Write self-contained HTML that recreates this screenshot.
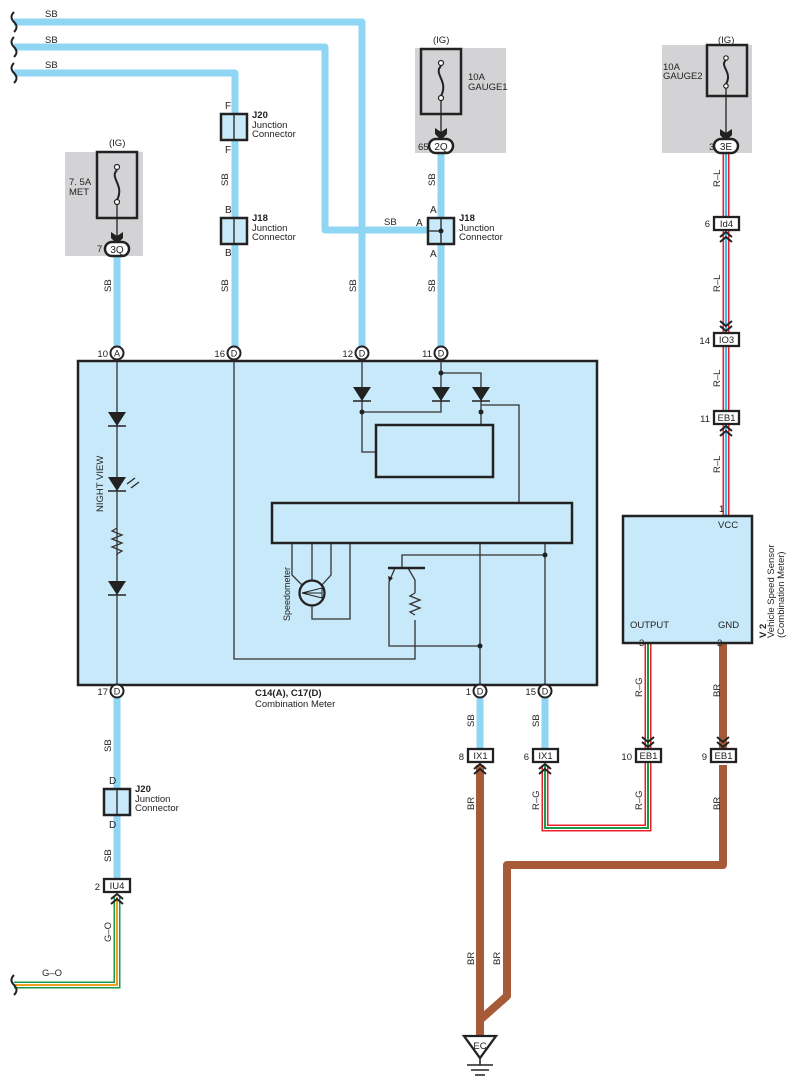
<!DOCTYPE html>
<html><head><meta charset="utf-8"><style>
html,body{margin:0;padding:0;background:#fff;}
svg{display:block;font-family:"Liberation Sans",sans-serif;}
text{fill:#222;}
</style></head><body>
<svg width="796" height="1088" viewBox="0 0 796 1088" xmlns="http://www.w3.org/2000/svg">
<defs>
<g id="chev"><path d="M-6,0 L0,-5 L6,0 M-6,5 L0,0 L6,5" fill="none" stroke="#222" stroke-width="2"/></g>
</defs>
<rect x="65" y="152" width="78" height="104" fill="#d3d3d5"/>
<rect x="415" y="48" width="91" height="105" fill="#d3d3d5"/>
<rect x="662" y="45" width="90" height="108" fill="#d3d3d5"/>

<g fill="none" stroke="#8fd6f5" stroke-width="7" stroke-linejoin="round">
<path d="M14,22 H362 V353"/>
<path d="M14,47 H325 V230 H435"/>
<path d="M14,73 H235 V353"/>
<path d="M117,256 V353"/>
<path d="M441,153 V353"/>
<path d="M117,691 V880"/>
<path d="M480,691 V755"/>
<path d="M545,691 V755"/>
</g>
<g fill="none" stroke="#a65a38" stroke-width="8" stroke-linejoin="round">
<path d="M480,765 V1036"/>
<path d="M723,643 V755"/>
<path d="M723,765 V865 H507 V996 L480,1020"/>
</g>
<g fill="none" stroke-linejoin="miter">
<path d="M726,153 V516" stroke="#e8212b" stroke-width="7"/>
<path d="M726,153 V516" stroke="#fff" stroke-width="4"/>
<path d="M726,153 V516" stroke="#4ab6e8" stroke-width="2.4"/>
<path d="M648,643 V828 H545 V765" stroke="#e8212b" stroke-width="7"/>
<path d="M648,643 V828 H545 V765" stroke="#fff" stroke-width="4"/>
<path d="M648,643 V828 H545 V765" stroke="#1a9a4a" stroke-width="2"/>
<path d="M117,897 V985 H14" stroke="#1a9a4a" stroke-width="7"/>
<path d="M117,897 V985 H14" stroke="#fff" stroke-width="4"/>
<path d="M117,897 V985 H14" stroke="#f0a020" stroke-width="2"/>
</g>

<g fill="none" stroke="#222" stroke-width="2">
<path d="M14,12 q-5,5 0,10 q5,5 0,10"/>
<path d="M14,37 q-5,5 0,10 q5,5 0,10"/>
<path d="M14,63 q-5,5 0,10 q5,5 0,10"/>
<path d="M14,975 q-5,5 0,10 q5,5 0,10"/>
</g>

<g fill="none" stroke="#222">
<rect x="97" y="152" width="40" height="66" stroke-width="2.5"/>
<path d="M117,170 c-8,8 8,15 0,30" stroke-width="2"/>
<circle cx="117" cy="167" r="2.5" fill="#fff" stroke-width="1.2"/><circle cx="117" cy="202" r="2.5" fill="#fff" stroke-width="1.2"/>
<path d="M117,204 V236" stroke-width="1.3"/>
<rect x="421" y="49" width="40" height="65" stroke-width="2.5"/>
<path d="M441,66 c-8,8 8,15 0,30" stroke-width="2"/>
<circle cx="441" cy="63" r="2.5" fill="#fff" stroke-width="1.2"/><circle cx="441" cy="98" r="2.5" fill="#fff" stroke-width="1.2"/>
<path d="M441,100 V132" stroke-width="1.3"/>
<rect x="707" y="45" width="40" height="51" stroke-width="2.5"/>
<path d="M726,60 c-7,6 7,12 0,24" stroke-width="2"/>
<circle cx="726" cy="58" r="2.2" fill="#fff" stroke-width="1.2"/><circle cx="726" cy="86" r="2.2" fill="#fff" stroke-width="1.2"/>
<path d="M726,88 V133" stroke-width="1.3"/>
</g>
<g fill="#222">
<path d="M111,232 L117,236 L123,232 L123,238 L117,244 L111,238Z"/>
<path d="M435,128 L441,132 L447,128 L447,134 L441,140 L435,134Z"/>
<path d="M720,129 L726,133 L732,129 L732,135 L726,141 L720,135Z"/>
</g>
<g stroke="#222" stroke-width="2.5" fill="#fff">
<rect x="105" y="242" width="24" height="14" rx="7"/>
<rect x="429" y="139" width="24" height="14" rx="7"/>
<rect x="714" y="139" width="24" height="14" rx="7"/>
</g>
<g font-size="10" text-anchor="middle">
<text x="117" y="253">3Q</text><text x="441" y="150">2Q</text><text x="726" y="150">3E</text>
</g>
<g font-size="9.5">
<text x="109" y="146">(IG)</text><text x="433" y="43">(IG)</text><text x="718" y="43">(IG)</text>
<text x="69" y="185">7. 5A</text><text x="69" y="195">MET</text>
<text x="468" y="80">10A</text><text x="468" y="90">GAUGE1</text>
<text x="663" y="70">10A</text><text x="663" y="79">GAUGE2</text>
<text x="97" y="252">7</text><text x="418" y="150">65</text><text x="709" y="150">3</text>
<text x="45" y="17">SB</text><text x="45" y="43">SB</text><text x="45" y="68">SB</text>
<text x="384" y="225">SB</text>
<text x="42" y="976">G–O</text>
</g>

<g stroke="#222" stroke-width="2.5" fill="#c8e9f9">
<rect x="221" y="114" width="26" height="26"/>
<rect x="221" y="218" width="26" height="26"/>
<rect x="428" y="218" width="26" height="26"/>
<rect x="104" y="789" width="26" height="26"/>
</g>
<g stroke="#222" stroke-width="1.3">
<path d="M234,114 V140 M234,218 V244 M441,218 V244 M428,231 H441 M117,789 V815"/>
</g>
<circle cx="441" cy="231" r="2.5" fill="#222"/>
<g font-size="10">
<text x="225" y="109">F</text><text x="225" y="153">F</text>
<text x="225" y="213">B</text><text x="225" y="256">B</text>
<text x="430" y="213">A</text><text x="430" y="257">A</text><text x="416" y="226">A</text>
<text x="109" y="784">D</text><text x="109" y="828">D</text>
<g font-size="9.5">
<text x="252" y="118" font-weight="bold">J20</text><text x="252" y="128">Junction</text><text x="252" y="137">Connector</text>
<text x="252" y="221" font-weight="bold">J18</text><text x="252" y="231">Junction</text><text x="252" y="240">Connector</text>
<text x="459" y="221" font-weight="bold">J18</text><text x="459" y="231">Junction</text><text x="459" y="240">Connector</text>
<text x="135" y="792" font-weight="bold">J20</text><text x="135" y="802">Junction</text><text x="135" y="811">Connector</text>
</g>
</g>

<g font-size="9.5">
<g transform="rotate(-90)">
<text x="-292" y="111">SB</text>
<text x="-186" y="228">SB</text><text x="-292" y="228">SB</text>
<text x="-292" y="356">SB</text>
<text x="-186" y="435">SB</text><text x="-292" y="435">SB</text>
<text x="-752" y="111">SB</text><text x="-862" y="111">SB</text>
<text x="-727" y="474">SB</text><text x="-727" y="539">SB</text>
<text x="-810" y="474">BR</text><text x="-965" y="474">BR</text><text x="-965" y="500">BR</text>
<text x="-810" y="539">R–G</text><text x="-810" y="642">R–G</text><text x="-697" y="642">R–G</text>
<text x="-697" y="720">BR</text><text x="-810" y="720">BR</text>
<text x="-187" y="720">R–L</text><text x="-292" y="720">R–L</text><text x="-387" y="720">R–L</text><text x="-473" y="720">R–L</text>
<text x="-942" y="111">G–O</text>
</g>
</g>

<rect x="78" y="361" width="519" height="324" fill="#c8e9f9" stroke="#222" stroke-width="2.5"/>
<g font-size="9.5" transform="rotate(-90)">
<text x="-512" y="103">NIGHT VIEW</text>
<text x="-621" y="290" font-size="9">Speedometer</text>
</g>
<g fill="none" stroke="#333" stroke-width="1.3">
<path d="M117,361 V685"/>
<path d="M234,361 V659 H415 V620 M415,593 V580 L408,568"/>
<path d="M362,361 V452 H376"/>
<path d="M441,361 V412 H362"/>
<path d="M441,373 H481 V425"/>
<path d="M481,405 H519 V503"/>
<path d="M402,568 V555 H545"/>
<path d="M395,568 L389,582 V646 H480"/>
<path d="M480,543 V685 M545,543 V685"/>
<path d="M292,543 V575 L302,585 M312,543 V580 M331,543 V575 L322,585 M350,543 V619 H312 V606"/>
<path d="M415,593 l-5,3 l10,4 l-10,4 l10,4 l-10,4 l5,3"/>
<path d="M117,528 l-5,3 l10,4 l-10,4 l10,4 l-10,4 l10,4 l-5,3 V556"/>
</g>
<path d="M388,568 H425" stroke="#222" stroke-width="2.5"/>
<path d="M389,582 l-1,-6 l5,2z" fill="#222"/>
<rect x="376" y="425" width="117" height="52" fill="none" stroke="#222" stroke-width="2.5"/>
<rect x="272" y="503" width="300" height="40" fill="none" stroke="#222" stroke-width="2.5"/>
<circle cx="312" cy="593" r="12.5" fill="none" stroke="#222" stroke-width="2.3"/>
<path d="M302,593 L322,588 L322,598 Z M302,593 H322" fill="none" stroke="#222" stroke-width="1"/>
<g fill="#222">
<path d="M108,412 H126 L117,426Z"/><path d="M108,426 H126" stroke="#222" stroke-width="1.5"/>
<path d="M108,477 H126 L117,491Z"/><path d="M108,491 H126" stroke="#222" stroke-width="1.5"/>
<path d="M108,581 H126 L117,595Z"/><path d="M108,595 H126" stroke="#222" stroke-width="1.5"/>
<path d="M353,387 H371 L362,401Z"/><path d="M353,401 H371" stroke="#222" stroke-width="1.5"/>
<path d="M432,387 H450 L441,401Z"/><path d="M432,401 H450" stroke="#222" stroke-width="1.5"/>
<path d="M472,387 H490 L481,401Z"/><path d="M472,401 H490" stroke="#222" stroke-width="1.5"/>
<circle cx="441" cy="373" r="2.5"/><circle cx="362" cy="412" r="2.5"/><circle cx="481" cy="412" r="2.5"/>
<circle cx="545" cy="555" r="2.5"/><circle cx="480" cy="646" r="2.5"/>
</g>
<path d="M127,484 l8,-6 M131,488 l8,-6" stroke="#222" stroke-width="1.2"/>
<g font-size="9.5">
<text x="255" y="696" font-weight="bold">C14(A), C17(D)</text>
<text x="255" y="707">Combination Meter</text>
</g>

<g stroke="#222" stroke-width="2" fill="#fff">
<circle cx="117" cy="353" r="6.5"/><circle cx="234" cy="353" r="6.5"/><circle cx="362" cy="353" r="6.5"/><circle cx="441" cy="353" r="6.5"/>
<circle cx="117" cy="691" r="6.5"/><circle cx="480" cy="691" r="6.5"/><circle cx="545" cy="691" r="6.5"/>
</g>
<g font-size="9" text-anchor="middle">
<text x="117" y="356.5">A</text><text x="234" y="356.5">D</text><text x="362" y="356.5">D</text><text x="441" y="356.5">D</text>
<text x="117" y="694.5">D</text><text x="480" y="694.5">D</text><text x="545" y="694.5">D</text>
</g>
<g font-size="9.5" text-anchor="end">
<text x="108" y="357">10</text><text x="225" y="357">16</text><text x="353" y="357">12</text><text x="432" y="357">11</text>
<text x="108" y="695">17</text><text x="471" y="695">1</text><text x="536" y="695">15</text>
</g>

<rect x="623" y="516" width="129" height="127" fill="#c8e9f9" stroke="#222" stroke-width="2.5"/>
<g font-size="9.5">
<text x="718" y="528">VCC</text><text x="630" y="628">OUTPUT</text><text x="718" y="628">GND</text>
<text x="719" y="512">1</text><text x="639" y="646">3</text><text x="717" y="646">2</text>
<g transform="rotate(-90)">
<text x="-638" y="766" font-weight="bold">V 2</text>
<text x="-638" y="772" dy="2">Vehicle Speed Sensor</text>
<text x="-638" y="784">(Combination Meter)</text>
</g>
</g>

<g stroke="#222" stroke-width="2.3" fill="#fff">
<rect x="714" y="217" width="25" height="13"/>
<rect x="714" y="333" width="25" height="13"/>
<rect x="714" y="411" width="25" height="13"/>
<rect x="468" y="749" width="25" height="13"/>
<rect x="533" y="749" width="25" height="13"/>
<rect x="636" y="749" width="25" height="13"/>
<rect x="711" y="749" width="25" height="13"/>
<rect x="104" y="879" width="26" height="13"/>
</g>
<g font-size="9.5" text-anchor="middle">
<text x="726.5" y="227">Id4</text><text x="726.5" y="343">IO3</text><text x="726.5" y="421">EB1</text>
<text x="480.5" y="759">IX1</text><text x="545.5" y="759">IX1</text><text x="648.5" y="759">EB1</text><text x="723.5" y="759">EB1</text>
<text x="117" y="889">IU4</text>
</g>
<g font-size="9.5" text-anchor="end">
<text x="710" y="227">6</text><text x="710" y="344">14</text><text x="710" y="422">11</text>
<text x="464" y="760">8</text><text x="529" y="760">6</text><text x="632" y="760">10</text><text x="707" y="760">9</text>
<text x="100" y="890">2</text>
</g>
<g>
<use href="#chev" transform="translate(726,237)"/>
<use href="#chev" transform="translate(726,326) rotate(180)"/>
<use href="#chev" transform="translate(726,431)"/>
<use href="#chev" transform="translate(480,769)"/>
<use href="#chev" transform="translate(545,769)"/>
<use href="#chev" transform="translate(648,742) rotate(180)"/>
<use href="#chev" transform="translate(723,742) rotate(180)"/>
<use href="#chev" transform="translate(117,899)"/>
</g>

<path d="M464,1036 H496 L480,1058Z" fill="#fff" stroke="#222" stroke-width="2.3"/>
<text x="480" y="1049" font-size="9.5" text-anchor="middle">EC</text>
<path d="M480,1058 V1065 M467,1065 H493 M471,1070 H489 M475,1075 H485" stroke="#222" stroke-width="1.5"/>
</svg>
</body></html>
